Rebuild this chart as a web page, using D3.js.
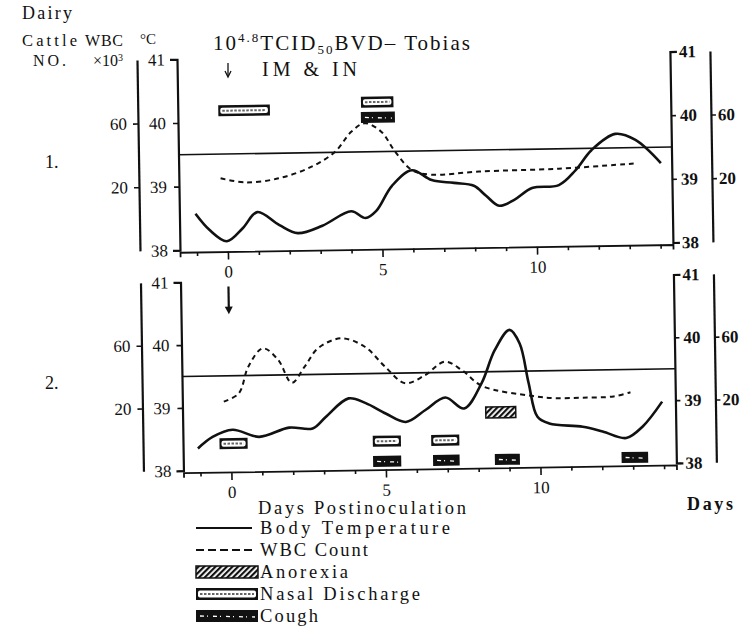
<!DOCTYPE html>
<html>
<head>
<meta charset="utf-8">
<script src="https://cdn.jsdelivr.net/npm/d3@7/dist/d3.min.js"></script>
<style>
  body { margin: 0; background: #fff; }
  svg text { font-family: "Liberation Serif", "DejaVu Serif", serif; fill: #111; }
</style>
</head>
<body>
<div id="chart"></div>
<script>
// Cattle 1: body temperature (deg C) and WBC count (x10^3) by day postinoculation
const cow1TempDays = [-1.03, -0.58, -0.03, 0.49, 0.97, 1.68, 2.27, 3.07, 4.01, 4.47, 4.82, 5.34, 5.99, 6.63, 7.35, 7.99, 8.38, 8.8, 9.29, 9.87, 10.74, 11.29, 11.81, 12.59, 13.24, 14.05];
const cow1Temp = [38.57, 38.31, 38.13, 38.33, 38.58, 38.37, 38.24, 38.35, 38.57, 38.46, 38.57, 38.96, 39.2, 39.04, 38.99, 38.94, 38.78, 38.62, 38.71, 38.89, 38.93, 39.16, 39.47, 39.72, 39.62, 39.25];
const cow1WbcDays = [-0.2, 0.6, 1.68, 2.75, 3.52, 4.05, 4.49, 5.02, 5.46, 6.0, 6.63, 8.16, 10.74, 13.17];
const cow1Wbc = [24.8, 22, 24.2, 31.2, 40.4, 52.7, 58, 52.5, 39.8, 28, 25, 26.5, 27.5, 30];

// Cattle 2
const cow2TempDays = [-1.07, -0.59, 0.06, 0.92, 1.89, 2.65, 3.08, 3.83, 4.38, 5.02, 5.67, 6.32, 6.96, 7.56, 8.14, 8.58, 9.07, 9.39, 9.66, 9.93, 10.31, 11.39, 12.03, 12.79, 13.33, 13.97];
const cow2Temp = [38.35, 38.53, 38.64, 38.52, 38.66, 38.64, 38.82, 39.11, 39.03, 38.86, 38.72, 38.91, 39.1, 38.92, 39.32, 39.84, 40.16, 39.94, 39.31, 38.77, 38.66, 38.6, 38.52, 38.41, 38.59, 38.98];
const cow2WbcDays = [-0.21, 0.28, 0.6, 1.08, 1.57, 2.0, 2.43, 2.86, 3.62, 4.38, 5.02, 5.67, 6.32, 6.96, 7.5, 8.15, 9.8, 10.5, 11.4, 12.4, 12.95];
const cow2Wbc = [23.6, 28.7, 45.5, 57.1, 49.6, 34.9, 45.2, 56.5, 62.7, 57.1, 44.3, 33.5, 38.5, 46.8, 41.4, 31, 24, 22.5, 22.5, 23, 25.5];

// clinical signs: [symptom, first day, last day, row]
const cow1Signs = [
    ["nasal", -0.24, 1.43, 1],
    ["nasal", 4.38, 5.43, 0],
    ["cough", 4.37, 5.47, 2]
];
const cow2Signs = [
    ["nasal", -0.37, 0.54, 1],
    ["nasal", 4.59, 5.5, 1],
    ["nasal", 6.48, 7.39, 1],
    ["cough", 4.59, 5.5, 2],
    ["cough", 6.53, 7.39, 2],
    ["anorexia", 8.26, 9.23, 0],
    ["cough", 8.53, 9.34, 2],
    ["cough", 12.63, 13.49, 2]
];

const dayTicks = d3.range(-1, 15);
const dayLabels = [0, 5, 10];
const tempTicks = [38, 39, 40, 41];
const wbcTicks = [20, 60];
const feverLine = 39.5;

const legendItems = [
    ["line", "Body Temperature"],
    ["dash", "WBC Count"],
    ["anorexia", "Anorexia"],
    ["nasal", "Nasal Discharge"],
    ["cough", "Cough"]
];
const legendWidths = [190, 108, 88, 160, 58];

const width = 743, height = 643;
const ink = "#111";

const svg = d3.select("#chart").append("svg")
    .attr("width", width)
    .attr("height", height);

const defs = svg.append("defs");
const hatch = defs.append("pattern")
    .attr("id", "hatch")
    .attr("patternUnits", "userSpaceOnUse")
    .attr("width", 4).attr("height", 4)
    .attr("patternTransform", "rotate(45)");
hatch.append("rect").attr("width", 4).attr("height", 4).attr("fill", "#fff");
hatch.append("rect").attr("width", 2.2).attr("height", 4).attr("fill", ink);

// draw one clinical sign box (also used by the legend)
function drawSign(g, type, x0, y0, w, h) {
    if (type === "nasal") {
        g.append("rect").attr("x", x0).attr("y", y0).attr("width", w).attr("height", h).attr("fill", ink);
        g.append("rect").attr("x", x0 + 2).attr("y", y0 + 2.5).attr("width", w - 4).attr("height", h - 5)
            .attr("rx", 2).attr("fill", "#fff");
        g.append("line").attr("x1", x0 + 4).attr("x2", x0 + w - 4)
            .attr("y1", y0 + h / 2).attr("y2", y0 + h / 2)
            .attr("stroke", "#666").attr("stroke-width", 2).attr("stroke-dasharray", "2.5,1.5");
    } else if (type === "cough") {
        g.append("rect").attr("x", x0).attr("y", y0).attr("width", w).attr("height", h).attr("fill", ink);
        g.append("line").attr("x1", x0 + 4).attr("x2", x0 + w - 3)
            .attr("y1", y0 + h / 2).attr("y2", y0 + h / 2 + 1)
            .attr("stroke", "#fff").attr("stroke-width", 1.3).attr("stroke-dasharray", "4,3,1,5");
    } else {
        g.append("rect").attr("x", x0).attr("y", y0).attr("width", w).attr("height", h)
            .attr("fill", "url(#hatch)").attr("stroke", ink).attr("stroke-width", 1.5);
    }
}

// the scanned figure is tilted by about one degree
const plot = svg.append("g").attr("transform", "rotate(-0.9, 228, 251)");

const x = d3.scaleLinear().domain([-1.55, 14.4]).range([180, 673]);

const panels = [
    { yRange: [249.5, 58.5], tempDays: cow1TempDays, temp: cow1Temp, wbcDays: cow1WbcDays, wbc: cow1Wbc,
      signs: cow1Signs, rows: [40.28, 40.18, 40.04], arrow: false },
    { yRange: [470, 281.5], tempDays: cow2TempDays, temp: cow2Temp, wbcDays: cow2WbcDays, wbc: cow2Wbc,
      signs: cow2Signs, rows: [38.85, 38.42, 38.1], arrow: true }
];

function styleAxis(g, size, bold) {
    g.attr("font-family", "Liberation Serif, DejaVu Serif, serif")
        .attr("font-size", size)
        .attr("font-weight", bold ? "bold" : "normal");
    g.selectAll("text").attr("fill", ink);
    g.selectAll("line").attr("stroke", ink).attr("stroke-width", 1.6);
    g.select(".domain").attr("stroke", ink).attr("stroke-width", 2.2);
}

panels.forEach(p => {
    const yT = d3.scaleLinear().domain([38, 41]).range(p.yRange);
    const yW = d3.scaleLinear().domain([-20, 100]).range(p.yRange);
    const g = plot.append("g");

    // temperature axes
    g.append("g").attr("transform", "translate(180,0)")
        .call(d3.axisLeft(yT).tickValues(tempTicks).tickFormat(d3.format("d")).tickSize(5).tickSizeOuter(7).tickPadding(7))
        .call(a => styleAxis(a, 17, false));
    g.append("g").attr("transform", "translate(673,0)")
        .call(d3.axisRight(yT).tickValues(tempTicks).tickFormat(d3.format("d")).tickSize(5).tickSizeOuter(7).tickPadding(4))
        .call(a => styleAxis(a, 17, true));

    // WBC axes
    g.append("g").attr("transform", "translate(140,0)")
        .call(d3.axisLeft(yW).tickValues(wbcTicks).tickSize(5).tickSizeOuter(0).tickPadding(6))
        .call(a => styleAxis(a, 17, false));
    g.append("g").attr("transform", "translate(713,0)")
        .call(d3.axisRight(yW).tickValues(wbcTicks).tickSize(5).tickSizeOuter(0).tickPadding(2))
        .call(a => styleAxis(a, 17, true));

    // day axis
    const xAxis = g.append("g").attr("transform", `translate(0,${yT(38) + 2})`)
        .call(d3.axisBottom(x).tickValues(dayTicks)
            .tickFormat(d => dayLabels.includes(d) ? d : "")
            .tickSize(4).tickSizeOuter(5).tickPadding(10))
        .call(a => styleAxis(a, 17, false));
    xAxis.select(".domain").attr("stroke-width", 1.8);
    xAxis.selectAll(".tick").filter(d => dayLabels.includes(d)).select("line").attr("y2", 8);

    // fever threshold
    g.append("line")
        .attr("x1", x.range()[0]).attr("x2", x.range()[1])
        .attr("y1", yT(feverLine)).attr("y2", yT(feverLine))
        .attr("stroke", ink).attr("stroke-width", 1.6);

    // WBC count
    const wbcLine = d3.line().x(d => x(d[0])).y(d => yW(d[1])).curve(d3.curveCatmullRom.alpha(0.5));
    g.append("path")
        .attr("d", wbcLine(d3.zip(p.wbcDays, p.wbc)))
        .attr("fill", "none").attr("stroke", ink).attr("stroke-width", 2)
        .attr("stroke-dasharray", "5,4");

    // body temperature
    const tempLine = d3.line().x(d => x(d[0])).y(d => yT(d[1])).curve(d3.curveCatmullRom.alpha(0.5));
    g.append("path")
        .attr("d", tempLine(d3.zip(p.tempDays, p.temp)))
        .attr("fill", "none").attr("stroke", ink).attr("stroke-width", 2.6)
        .attr("stroke-linejoin", "round");

    // clinical signs
    p.signs.forEach(s => {
        const x0 = x(s[1]);
        drawSign(g, s[0], x0, yT(p.rows[s[3]]) - 5.5, x(s[2]) - x0, 11);
    });

    if (p.arrow) {
        const ax = x(0);
        g.append("line").attr("x1", ax).attr("x2", ax)
            .attr("y1", yT(40.92)).attr("y2", yT(40.58))
            .attr("stroke", ink).attr("stroke-width", 2.2);
        g.append("path")
            .attr("d", `M${ax - 4},${yT(40.6)}L${ax + 4},${yT(40.6)}L${ax},${yT(40.48)}Z`)
            .attr("fill", ink);
    }
});

// header texts
const txt = (xp, yp, s, size, len) => {
    const t = svg.append("text").attr("x", xp).attr("y", yp).attr("font-size", size).text(s);
    if (len) t.attr("textLength", len).attr("lengthAdjust", "spacing");
    return t;
};
txt(22, 19, "Dairy", 18, 50);
txt(22, 46, "Cattle", 16.5, 55);
txt(33, 66, "NO.", 16, 33);
txt(85, 46, "WBC", 16, 38);
txt(140, 44, "°C", 15, 16);
const xTen = txt(93, 66, "×10", 16, null);
xTen.append("tspan").attr("font-size", 10).attr("dy", -5).text("3");
txt(45, 168, "1.", 18, null);
txt(45, 389, "2.", 18, null);

const title = svg.append("text").attr("x", 213).attr("y", 50).attr("font-size", 21)
    .attr("textLength", 257).attr("lengthAdjust", "spacing");
title.append("tspan").text("10");
title.append("tspan").attr("font-size", 13).attr("dy", -8).text("4.8");
title.append("tspan").attr("dy", 8).text("TCID");
title.append("tspan").attr("font-size", 13).attr("dy", 4).text("50");
title.append("tspan").attr("dy", -4).text("BVD– Tobias");

// inoculation arrow
svg.append("line").attr("x1", 228).attr("x2", 228).attr("y1", 63).attr("y2", 76)
    .attr("stroke", ink).attr("stroke-width", 1.3);
svg.append("path").attr("d", "M225,71L228,77L231,71").attr("fill", "none").attr("stroke", ink).attr("stroke-width", 1.3);
txt(262, 76, "IM & IN", 20, 95);

// axis titles and legend
txt(258, 514, "Days Postinoculation", 18.5, 208);
txt(687, 510, "Days", 18, 46).attr("font-weight", "bold");

const legend = svg.append("g");
legendItems.forEach((item, i) => {
    const cy = 528 + i * 22;
    const [type, label] = item;
    if (type === "line") {
        legend.append("line").attr("x1", 196).attr("x2", 252).attr("y1", cy).attr("y2", cy)
            .attr("stroke", ink).attr("stroke-width", 2);
    } else if (type === "dash") {
        legend.append("line").attr("x1", 196).attr("x2", 256).attr("y1", cy).attr("y2", cy)
            .attr("stroke", ink).attr("stroke-width", 1.8).attr("stroke-dasharray", "8,4");
    } else {
        drawSign(legend, type, 196, cy - 6, 62, 12);
    }
    legend.append("text").attr("x", 260).attr("y", cy + 6).attr("font-size", 18.5)
        .attr("textLength", legendWidths[i]).attr("lengthAdjust", "spacing").text(label);
});
</script>
</body>
</html>
